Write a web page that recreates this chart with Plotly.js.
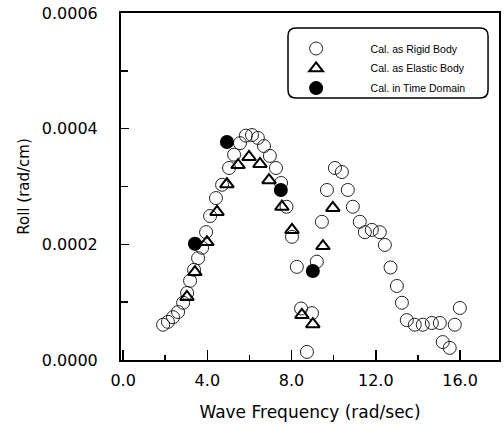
<!DOCTYPE html>
<html>
<head>
<meta charset="utf-8">
<script src="https://cdn.plot.ly/plotly-3.0.1.min.js"></script>
<style>html,body{margin:0;padding:0;background:#fff;}#chart{width:504px;height:427px;}</style>
</head>
<body>
<div id="chart"></div>
<script>
// Cal. as Rigid Body (open circles)
var rigidX = [1.90,2.13,2.37,2.61,2.85,3.04,3.18,3.37,3.56,3.75,3.94,4.13,4.41,4.70,5.03,5.27,5.55,5.83,6.12,6.40,6.69,6.97,7.26,7.50,7.76,8.02,8.25,8.45,8.73,8.97,9.20,9.44,9.68,10.06,10.39,10.67,10.91,11.24,11.48,11.81,12.19,12.43,12.70,13.00,13.24,13.47,13.85,14.23,14.66,15.04,15.18,15.51,15.75,15.99];
var rigidY = [0.0000610,0.0000660,0.0000740,0.0000830,0.0000990,0.000116,0.000137,0.000156,0.000176,0.000194,0.000221,0.000249,0.000280,0.000303,0.000332,0.000355,0.000375,0.000388,0.000389,0.000384,0.000370,0.000353,0.000332,0.000306,0.000265,0.000213,0.000161,0.0000890,0.0000140,0.0000810,0.000170,0.000239,0.000294,0.000332,0.000325,0.000294,0.000265,0.000239,0.000221,0.000225,0.000221,0.000199,0.000160,0.000128,0.0000990,0.0000690,0.0000610,0.0000610,0.0000640,0.0000640,0.0000310,0.0000210,0.0000610,0.0000900];
// Cal. as Elastic Body (open triangles)
var elasticX = [3.03,3.41,3.98,4.46,4.93,5.46,5.98,6.50,6.93,7.54,8.02,8.49,9.01,9.49,9.96];
var elasticY = [0.000109,0.000152,0.000204,0.000256,0.000304,0.000337,0.000351,0.000339,0.000311,0.000265,0.000225,0.0000780,0.0000620,0.000197,0.000263];
// Cal. in Time Domain (filled circles)
var timeX = [3.41,4.93,7.49,9.01];
var timeY = [0.000201,0.000377,0.000294,0.000154];

var names = ["Cal. as Rigid Body","Cal. as Elastic Body","Cal. in Time Domain"];
var xTickVals = [0,4,8,12,16];
var xTickText = ["0.0","4.0","8.0","12.0","16.0"];
var yTickVals = [0,0.0002,0.0004,0.0006];
var yTickText = ["0.0000","0.0002","0.0004","0.0006"];

var traces = [
  {x: rigidX, y: rigidY, type:'scatter', mode:'markers', name:names[0], legendgroup:'a',
   marker:{symbol:'circle-open', size:13, color:'#222', line:{width:1, color:'#222'}}},
  {x: elasticX, y: elasticY, type:'scatter', mode:'markers', name:names[1], legendgroup:'b',
   marker:{symbol:'triangle-up-open', size:12, color:'#000', line:{width:2, color:'#000'}}},
  {x: timeX, y: timeY, type:'scatter', mode:'markers', name:names[2], legendgroup:'c',
   marker:{symbol:'circle', size:14, color:'#000'}}
];

var wide = '"DejaVu Sans", Verdana, sans-serif';
var arial = '"Liberation Sans", Arial, sans-serif';

var layout = {
  width:504, height:427,
  margin:{l:121, r:5, t:13, b:67},
  paper_bgcolor:'#fff', plot_bgcolor:'#fff',
  showlegend:true,
  font:{family:arial, color:'#000'},
  xaxis:{
    range:[-0.1,17.85], showgrid:false, zeroline:false,
    showline:true, linewidth:2, linecolor:'#000', mirror:true,
    ticks:'inside', ticklen:10, tickwidth:1.5, tickcolor:'#000',
    tickvals:xTickVals, ticktext:xTickText,
    tickfont:{family:wide, size:16, color:'#000'},
    ticklabelstandoff:5,
    minor:{dtick:2, tick0:0, ticks:'inside', ticklen:5, tickwidth:1.5, tickcolor:'#000'},
    title:{text:'Wave Frequency (rad/sec)', font:{family:wide, size:17, color:'#000'}, standoff:17}
  },
  yaxis:{
    range:[0,0.0006], showgrid:false, zeroline:false,
    showline:true, linewidth:2, linecolor:'#000', mirror:true,
    ticks:'inside', ticklen:8, tickwidth:1.5, tickcolor:'#000',
    tickvals:yTickVals, ticktext:yTickText,
    tickfont:{family:wide, size:16, color:'#000'},
    ticklabelstandoff:18,
    minor:{dtick:0.0001, tick0:0, ticks:'inside', ticklen:7, tickwidth:1.5, tickcolor:'#000'},
    title:{text:'Roll (rad/cm)', font:{family:wide, size:15, color:'#000'}, standoff:9}
  },
  legend:{
    x:0.372, y:0.9395, xanchor:'left', yanchor:'top',
    bgcolor:'rgba(0,0,0,0)', borderwidth:0,
    itemwidth:99, traceorder:'grouped', tracegroupgap:0.8,
    font:{family:arial, size:10.5, color:'#000'}
  },
  shapes:[{
    type:'path', xref:'paper', yref:'paper',
    path:'M0.4628,0.957 L0.950,0.957 Q0.971,0.957 0.971,0.934 L0.971,0.778 Q0.971,0.755 0.950,0.755 L0.4628,0.755 Q0.4418,0.755 0.4418,0.778 L0.4418,0.934 Q0.4418,0.957 0.4628,0.957 Z',
    line:{color:'#000', width:1.5}
  }]
};

Plotly.newPlot('chart', traces, layout, {displayModeBar:false, staticPlot:true});
</script>
</body>
</html>
